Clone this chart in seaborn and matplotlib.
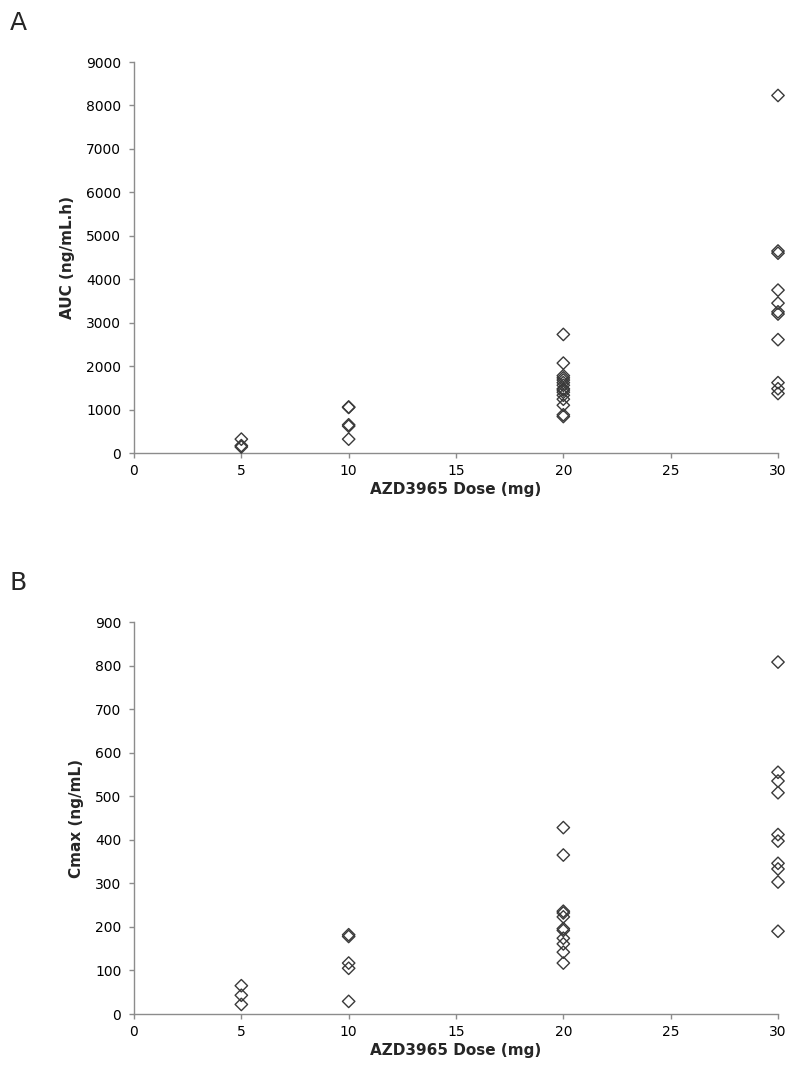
import matplotlib
matplotlib.use('Agg')
import matplotlib.pyplot as plt
import pandas as pd
import seaborn as sns

sns.set_style('white')
plt.rcParams['font.family'] = ['DejaVu Sans']

# AUC (ng/mL.h) per dose
auc_dose = [5, 5, 5,
            10, 10, 10, 10, 10,
            20, 20, 20, 20, 20, 20, 20, 20, 20, 20, 20, 20, 20, 20, 20,
            30, 30, 30, 30, 30, 30, 30, 30, 30, 30, 30]
auc_vals = [320, 170, 140,
            1050, 1060, 620, 650, 320,
            2730, 2070, 1780, 1730, 1680, 1620, 1560, 1480, 1450, 1400, 1330, 1240, 1100, 880, 840,
            8230, 4650, 4600, 3750, 3450, 3250, 3200, 2610, 1620, 1480, 1370]

# Cmax (ng/mL) per dose
cmax_dose = [5, 5, 5,
             10, 10, 10, 10, 10,
             20, 20, 20, 20, 20, 20, 20, 20, 20, 20, 20,
             30, 30, 30, 30, 30, 30, 30, 30, 30, 30]
cmax_vals = [65, 43, 22,
             178, 182, 117, 105, 29,
             428, 365, 236, 232, 223, 196, 192, 174, 161, 142, 117,
             808, 555, 535, 508, 412, 397, 346, 333, 303, 190]

df_auc = pd.DataFrame({'dose': auc_dose, 'val': auc_vals})
df_cmax = pd.DataFrame({'dose': cmax_dose, 'val': cmax_vals})

fig = plt.figure(figsize=(8, 10.88), dpi=100)
ax1 = fig.add_axes([0.1675, 0.5836, 0.805, 0.3594])
ax2 = fig.add_axes([0.1675, 0.068, 0.805, 0.3603])

panels = [(ax1, df_auc, 'AUC (ng/mL.h)', 9000, 1000, 'A', 0.99),
          (ax2, df_cmax, 'Cmax (ng/mL)', 900, 100, 'B', 0.475)]

for ax, df, ylab, ymax, ystep, letter, ly in panels:
    sns.scatterplot(data=df, x='dose', y='val', ax=ax, marker='D', s=40,
                    facecolor='none', edgecolor='#3a3a3a', linewidth=1.0,
                    clip_on=False, zorder=3)
    ax.set_xlim(0, 30)
    ax.set_ylim(0, ymax)
    ax.set_xticks(range(0, 31, 5))
    ax.set_yticks(range(0, ymax + 1, ystep))
    ax.set_xlabel('AZD3965 Dose (mg)', fontsize=11, fontweight='bold', labelpad=3)
    ax.set_ylabel(ylab, fontsize=11, fontweight='bold', labelpad=8)
    for s in ['top', 'right']:
        ax.spines[s].set_visible(False)
    for s in ['left', 'bottom']:
        ax.spines[s].set_color('#8c8c8c')
        ax.spines[s].set_linewidth(1.0)
    ax.tick_params(axis='both', direction='out', length=3.6, width=1,
                   color='#8c8c8c', labelsize=10, labelcolor='black',
                   left=True, bottom=True)
    ax.tick_params(axis='y', pad=5.5)
    ax.tick_params(axis='x', pad=4.5)
    fig.text(0.012, ly, letter, fontsize=18, va='top', ha='left')

fig.savefig('out.png', dpi=100)
